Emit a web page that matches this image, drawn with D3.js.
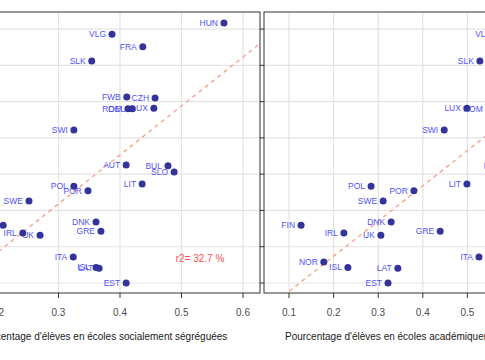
<!DOCTYPE html>
<html>
<head>
<meta charset="utf-8">
<script src="https://cdn.jsdelivr.net/npm/d3@7"></script>
<style>
  body { margin: 0; background: #fff; }
  svg { display: block; font-family: "Liberation Sans", Arial, sans-serif; }
</style>
</head>
<body>
<div id="chart"></div>
<script>
// country codes, shared y value, x in each panel
const countries = ["HUN", "VLG", "FRA", "SLK", "FWB", "CZH", "LUX", "ROM", "DEU", "SWI",
  "AUT", "BUL", "SLO", "LIT", "POL", "POR", "SWE", "DNK", "FIN", "GRE",
  "IRL", "UK", "ITA", "NOR", "ISL", "LAT", "EST"];
const scoreGap = [91.7, 88.6, 85.1, 81.2, 71.3, 71.0, 68.2, 68.0, 68.0, 62.2,
  52.5, 52.3, 50.6, 47.3, 46.7, 45.4, 42.6, 36.8, 35.9, 34.3,
  33.8, 33.2, 27.2, 25.8, 24.3, 24.1, 20.0];
const socialSeg = [0.569, 0.387, 0.437, 0.354, 0.411, 0.457, 0.455, 0.413, 0.420, 0.325,
  0.410, 0.478, 0.488, 0.436, 0.325, 0.348, 0.252, 0.361, 0.210, 0.369,
  0.242, 0.270, 0.324, 0.170, 0.361, 0.366, 0.410];
const acadSeg = [0.65, 0.569, 0.62, 0.528, 0.60, 0.66, 0.499, 0.548, 0.63, 0.448,
  0.61, 0.587, 0.64, 0.499, 0.284, 0.380, 0.311, 0.329, 0.127, 0.439,
  0.223, 0.306, 0.526, 0.178, 0.232, 0.344, 0.322];

const xTicksLeft = [0.2, 0.3, 0.4, 0.5, 0.6];
const xTicksRight = [0.1, 0.2, 0.3, 0.4, 0.5, 0.6, 0.7];
const yTicks = [20, 30, 40, 50, 60, 70, 80, 90];

// regression lines: intercept, slope
const fitLeft = [1.35, 134.9];
const fitRight = [8.0, 97.0];
const r2Left = "r2= 32.7 %";

const titleLeft = "Pourcentage d'élèves en écoles socialement ségréguées";
const titleRight = "Pourcentage d'élèves en écoles académiquement ségréguées";

const width = 485, height = 360;
const plotTop = 12, plotBottom = 293;

const svg = d3.select("#chart").append("svg")
  .attr("width", width)
  .attr("height", height);

const y = d3.scaleLinear().domain([17.25, 94.7]).range([plotBottom, plotTop]);

const panels = [
  { id: "L", left: -58, right: 260, domain: [0.1106, 0.6276], xv: socialSeg,
    ticks: xTicksLeft, fit: fitLeft, title: titleLeft, r2: r2Left },
  { id: "R", left: 264, right: 582, domain: [0.0439, 0.757], xv: acadSeg,
    ticks: xTicksRight, fit: fitRight, title: titleRight, r2: null },
];

panels.forEach(function (p) {
  const x = d3.scaleLinear().domain(p.domain).range([p.left, p.right]);
  const g = svg.append("g");

  g.append("clipPath").attr("id", "clip" + p.id)
    .append("rect")
    .attr("x", p.left).attr("y", plotTop)
    .attr("width", p.right - p.left).attr("height", plotBottom - plotTop);

  // grid
  g.selectAll(".gx").data(p.ticks).enter().append("line")
    .attr("x1", (d) => x(d)).attr("x2", (d) => x(d))
    .attr("y1", plotTop).attr("y2", plotBottom)
    .attr("stroke", "#e3e3e3").attr("stroke-width", 1.2);
  g.selectAll(".gy").data(yTicks).enter().append("line")
    .attr("x1", p.left).attr("x2", p.right)
    .attr("y1", (d) => y(d)).attr("y2", (d) => y(d))
    .attr("stroke", "#e3e3e3").attr("stroke-width", 1.2);

  // fitted line
  const xs = p.domain;
  g.append("line")
    .attr("clip-path", "url(#clip" + p.id + ")")
    .attr("x1", x(xs[0])).attr("y1", y(p.fit[0] + p.fit[1] * xs[0]))
    .attr("x2", x(xs[1])).attr("y2", y(p.fit[0] + p.fit[1] * xs[1]))
    .attr("stroke", "#f7a28e").attr("stroke-width", 1.4)
    .attr("stroke-dasharray", "4,4");

  // labels then points
  g.selectAll(".lab").data(countries).enter().append("text")
    .attr("x", (d, i) => x(p.xv[i]) - 6)
    .attr("y", (d, i) => y(scoreGap[i]))
    .attr("dy", "0.35em")
    .attr("text-anchor", "end")
    .attr("font-size", 8.5)
    .attr("fill", "#5050f8")
    .text((d) => d);

  g.selectAll(".pt").data(countries).enter().append("circle")
    .attr("cx", (d, i) => x(p.xv[i]))
    .attr("cy", (d, i) => y(scoreGap[i]))
    .attr("r", 3.5)
    .attr("fill", "#33339c");

  if (p.r2) {
    g.append("text")
      .attr("x", x(0.53)).attr("y", y(25.8))
      .attr("text-anchor", "middle")
      .attr("font-size", 10)
      .attr("fill", "#ff5050")
      .text(p.r2);
  }

  // frame
  g.append("rect")
    .attr("x", p.left).attr("y", plotTop)
    .attr("width", p.right - p.left).attr("height", plotBottom - plotTop)
    .attr("fill", "none").attr("stroke", "#333").attr("stroke-width", 1);

  // x axis
  g.selectAll(".tx").data(p.ticks).enter().append("line")
    .attr("x1", (d) => x(d)).attr("x2", (d) => x(d))
    .attr("y1", plotBottom).attr("y2", plotBottom + 5)
    .attr("stroke", "#333");
  g.selectAll(".tl").data(p.ticks).enter().append("text")
    .attr("x", (d) => x(d)).attr("y", plotBottom + 23)
    .attr("text-anchor", "middle")
    .attr("font-size", 10)
    .attr("fill", "#4d4d4d")
    .text((d) => d3.format(".1f")(d));

  // y ticks on the left side of the frame
  g.selectAll(".ty").data(yTicks).enter().append("line")
    .attr("x1", p.left - 4).attr("x2", p.left)
    .attr("y1", (d) => y(d)).attr("y2", (d) => y(d))
    .attr("stroke", "#333");

  g.append("text")
    .attr("x", (p.left + p.right) / 2).attr("y", plotBottom + 47)
    .attr("text-anchor", "middle")
    .attr("font-size", 10)
    .attr("fill", "#1a1a1a")
    .text(p.title);
});
</script>
</body>
</html>
